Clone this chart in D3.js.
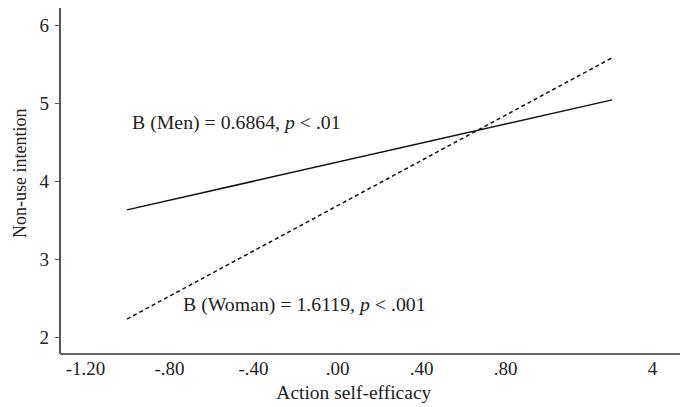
<!DOCTYPE html>
<html>
<head>
<meta charset="utf-8">
<script src="https://cdn.jsdelivr.net/npm/d3@7"></script>
<style>
  body { margin: 0; background: #fff; }
  svg text { font-family: "Liberation Serif", "DejaVu Serif", serif; fill: #222; }
</style>
</head>
<body>
<svg id="chart" width="680" height="407"></svg>
<script>
// simple slopes: predicted non-use intention at low / high action self-efficacy
const groups = ['Men', 'Woman'];
const xEnds = [-1.0, 1.31];
const menValues = [3.63, 5.04];
const womanValues = [2.23, 5.58];

// the last label sits off the regular spacing in the source figure
const xTicks = [-1.2, -0.8, -0.4, 0, 0.4, 0.8, 1.5];
const xTickLabels = ['-1.20', '-.80', '-.40', '.00', '.40', '.80', '4'];
const yTicks = [2, 3, 4, 5, 6];

const labels = ['B (Men) = 0.6864, ', 'B (Woman) = 1.6119, '];
const pLabels = ['.01', '.001'];
// annotation anchors in data units
const labelX = [-0.976, -0.733];
const labelY = [4.67, 2.33];

const svg = d3.select('#chart');
const plotLeft = 60, plotRight = 680, plotTop = 8, plotBottom = 354;

const x = d3.scaleLinear().domain([-1.319, 1.633]).range([plotLeft, plotRight]);
const y = d3.scaleLinear().domain([1.782, 6.218]).range([plotBottom, plotTop]);

// y axis
const yAxis = svg.append('g')
  .attr('transform', `translate(${plotLeft},0)`)
  .call(d3.axisLeft(y).tickValues(yTicks).tickSize(5).tickPadding(6).tickFormat(d3.format('d')));
yAxis.select('.domain').attr('stroke', '#111').attr('stroke-width', 1.4).attr('d', `M0,${plotTop}V${plotBottom}`);
yAxis.selectAll('.tick line').attr('stroke', '#555');
yAxis.selectAll('.tick text').style('font-size', '19px').attr('fill', '#222');

// x axis, labels only
const xAxis = svg.append('g')
  .attr('transform', `translate(0,${plotBottom})`)
  .call(d3.axisBottom(x).tickValues(xTicks).tickSize(0).tickPadding(8)
    .tickFormat((d, i) => xTickLabels[i]));
xAxis.select('.domain').attr('stroke', '#666').attr('stroke-width', 2).attr('d', `M${plotLeft},0H${plotRight}`);
xAxis.selectAll('.tick text').style('font-size', '19px').attr('fill', '#222');

// axis titles
svg.append('text')
  .attr('x', x(0.08))
  .attr('y', 399)
  .attr('text-anchor', 'middle')
  .style('font-size', '19.5px')
  .text('Action self-efficacy');

svg.append('text')
  .attr('transform', `translate(26,${y(4.1)}) rotate(-90)`)
  .attr('text-anchor', 'middle')
  .style('font-size', '18px')
  .text('Non-use intention');

// lines
const series = [menValues, womanValues];
const line = d3.line().x((d, i) => x(xEnds[i])).y(d => y(d));

svg.selectAll('path.slope')
  .data(series)
  .join('path')
  .attr('class', 'slope')
  .attr('d', d => line(d))
  .attr('fill', 'none')
  .attr('stroke', '#111')
  .attr('stroke-width', 1.5)
  .attr('stroke-dasharray', (d, i) => i === 1 ? '4,3' : null);

// annotations
groups.forEach((g, i) => {
  const t = svg.append('text')
    .attr('x', x(labelX[i]))
    .attr('y', y(labelY[i]))
    .style('font-size', '19.8px');
  t.append('tspan').text(labels[i]);
  t.append('tspan').style('font-style', 'italic').text('p');
  t.append('tspan').text(' < ' + pLabels[i]);
});
</script>
</body>
</html>
